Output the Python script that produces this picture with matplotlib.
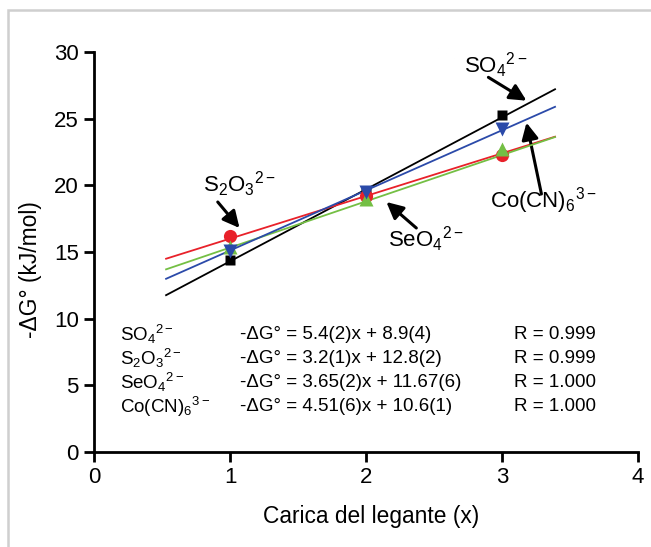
import numpy as np
import matplotlib
matplotlib.use("Agg")
from matplotlib import pyplot as plt
from matplotlib.patches import Rectangle

plt.rcParams["font.family"] = ["Liberation Sans", "DejaVu Sans"]
plt.rcParams["mathtext.fontset"] = "custom"
plt.rcParams["mathtext.rm"] = "Liberation Sans"
plt.rcParams["mathtext.it"] = "Liberation Sans:italic"

# Dati
carica = [1, 2, 3]
so4 = [14.4, 19.6, 25.3]
s2o3 = [16.2, 19.2, 22.3]
seo4 = [15.4, 19.0, 22.7]
cocn6 = [15.1, 19.5, 24.2]

# pendenza, intercetta delle rette disegnate
retta_so4 = (5.4, 8.9)
retta_s2o3 = (3.2, 12.8)
retta_seo4 = (3.47, 11.86)
retta_cocn6 = (4.51, 10.6)

nomi = [r"SO$_4$$^{2-}$", r"S$_2$O$_3$$^{2-}$", r"SeO$_4$$^{2-}$", r"Co(CN)$_6$$^{3-}$"]
equazioni = ["-ΔG° = 5.4(2)x + 8.9(4)", "-ΔG° = 3.2(1)x + 12.8(2)",
             "-ΔG° = 3.65(2)x + 11.67(6)", "-ΔG° = 4.51(6)x + 10.6(1)"]
erre = ["R = 0.999", "R = 0.999", "R = 1.000", "R = 1.000"]

fig = plt.figure(figsize=(6.51, 5.47), dpi=100)
ax = fig.add_axes([94 / 651, 1 - 452 / 547, 544 / 651, 400 / 547])

# cornice grigia
fig.patches.append(Rectangle((8 / 651, -0.05), 1.1, 1.05 - 10 / 547,
                             transform=fig.transFigure, fill=False,
                             edgecolor="#cfcfcf", lw=1.8))

xx = np.array([0.53, 3.39])
serie = [(so4, retta_so4, "black", "s", 7.8),
         (s2o3, retta_s2o3, "#e8212a", "o", 9.5),
         (seo4, retta_seo4, "#74bf44", "^", 9.5),
         (cocn6, retta_cocn6, "#2b4aa9", "v", 9.5)]
for i, (y, (m, q), col, mk, ms) in enumerate(serie):
    ax.plot(xx, m * xx + q, color=col, lw=1.3, zorder=2 + i)
for i, (y, (m, q), col, mk, ms) in enumerate(serie):
    ax.plot(carica, y, ls="none", marker=mk, ms=ms, color=col, mec="none", zorder=10 + i)

ax.set_xlim(0, 4)
ax.set_ylim(0, 30)
ax.set_xticks([0, 1, 2, 3, 4])
ax.set_yticks([0, 5, 10, 15, 20, 25, 30])
ax.spines["top"].set_visible(False)
ax.spines["right"].set_visible(False)
ax.spines["left"].set_linewidth(2)
ax.spines["bottom"].set_linewidth(2)
ax.tick_params(width=2, length=7, labelsize=16, pad=4)
for sp in ["left", "bottom"]:
    ax.spines[sp].set_clip_on(False)

ax.set_xlabel("Carica del legante (x)", fontsize=16.4)
ax.set_ylabel("-ΔG° (kJ/mol)", fontsize=16.4)
ax.xaxis.set_label_coords(0.509, -0.133)
ax.yaxis.set_label_coords(-0.096, 0.455)

# etichette con frecce
freccia = dict(arrowstyle="-|>", color="black", lw=2.2, mutation_scale=25,
               shrinkA=0, shrinkB=0)
ax.text(2.72, 28.4, nomi[0], fontsize=16, va="baseline")
ax.annotate("", xy=(3.18, 26.35), xytext=(2.90, 28.1), arrowprops=freccia)
ax.text(0.80, 19.5, nomi[1], fontsize=16, va="baseline")
ax.annotate("", xy=(1.07, 16.8), xytext=(0.91, 18.75), arrowprops=freccia)
ax.text(2.16, 15.4, nomi[2], fontsize=16, va="baseline")
ax.annotate("", xy=(2.15, 18.75), xytext=(2.37, 16.8), arrowprops=freccia)
ax.text(2.91, 18.3, nomi[3], fontsize=16, va="baseline")
ax.annotate("", xy=(3.18, 24.7), xytext=(3.29, 19.35), arrowprops=freccia)

# tabella delle equazioni
righe_y = [8.8, 7.0, 5.2, 3.4]
for n, eq, r, yy in zip(nomi, equazioni, erre, righe_y):
    ax.text(0.19, yy, n, fontsize=13.5, va="center")
    ax.text(1.07, yy, eq, fontsize=13.5, va="center")
    ax.text(3.09, yy, r, fontsize=13.5, va="center")

fig.savefig("out.png", dpi=100)
